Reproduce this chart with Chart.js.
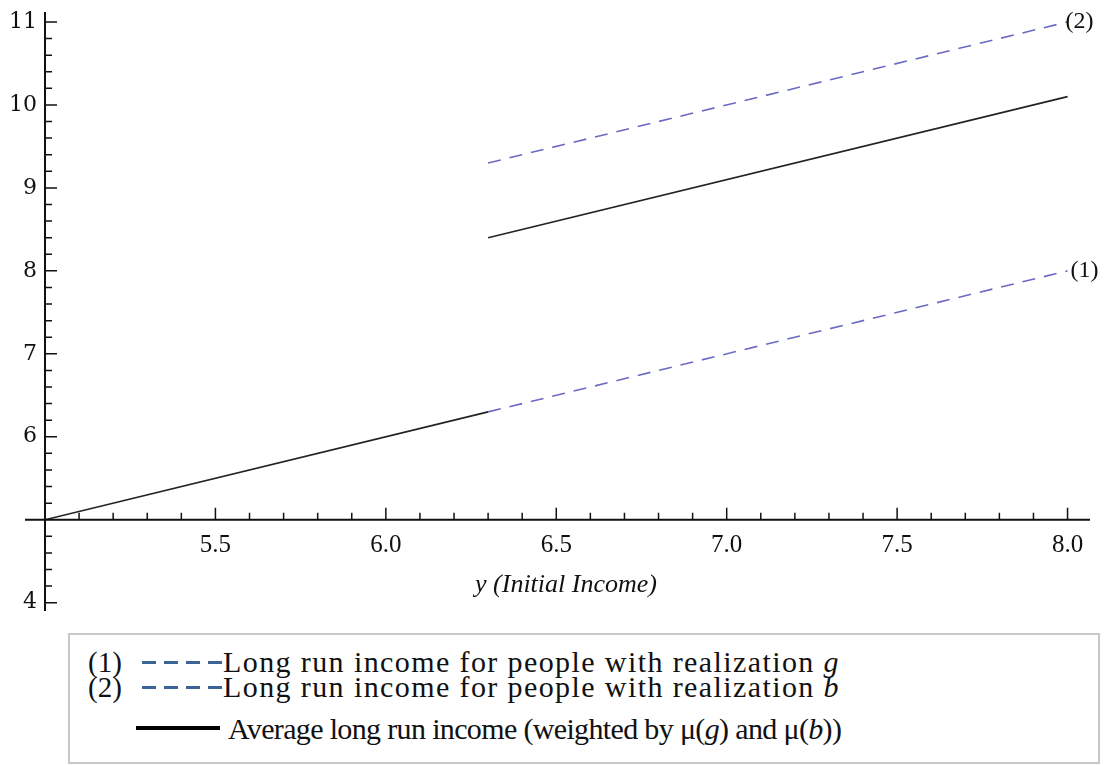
<!DOCTYPE html>
<html>
<head>
<meta charset="utf-8">
<script src="https://cdn.jsdelivr.net/npm/chart.js@4.4.0/dist/chart.umd.min.js"></script>
<style>
    body { margin: 0; background: #fff; width: 1105px; height: 765px; overflow: hidden; position: relative; }
    #wrap { position: absolute; left: 0; top: 0; width: 1105px; height: 625px; }
    #legendBox {
        position: absolute; left: 68px; top: 633px; width: 1032px; height: 131px;
        border: 2px solid #c8c8c8; box-sizing: border-box;
        font-family: "Liberation Serif", serif; font-size: 30px; color: #111;
    }
    .row { position: absolute; left: 0; height: 26px; line-height: 26px; white-space: nowrap; }
    .num { position: absolute; left: 18px; font-size: 29px; }
    .dash { position: absolute; left: 72px; top: 12px; width: 84px; height: 3px;
            background: repeating-linear-gradient(90deg, #3d6499 0 14px, transparent 14px 22px); }
    .solid { position: absolute; left: 66px; top: 10px; width: 84px; height: 4px; background: #000; }
    .txt { position: absolute; left: 153px; letter-spacing: 1.4px; }
</style>
</head>
<body>
<div id="wrap"><canvas id="chart" width="1105" height="625"></canvas></div>
<div id="legendBox">
    <div class="row" style="top:14px"><span class="num">(1)</span><span class="dash"></span><span class="txt">Long run income for people with realization <i>g</i></span></div>
    <div class="row" style="top:39px"><span class="num">(2)</span><span class="dash"></span><span class="txt">Long run income for people with realization <i>b</i></span></div>
    <div class="row" style="top:81px"><span class="solid"></span><span class="txt" style="left:158px; letter-spacing:-0.65px">Average long run income (weighted by μ(<i>g</i>) and μ(<i>b</i>))</span></div>
</div>
<script>
// data
const avgLowX = [5.0, 6.3];
const avgLowY = [5.0, 6.3];
const goodX = [6.3, 8.0];
const goodY = [6.3, 8.0];
const badX = [6.3, 8.0];
const badY = [9.3, 11.0];
const avgHighX = [6.3, 8.0];
const avgHighY = [8.4, 10.1];
const endLabels = ['(1)', '(2)'];
const xLabelTicks = [5.5, 6.0, 6.5, 7.0, 7.5, 8.0];
const yLabelTicks = [4, 6, 7, 8, 9, 10, 11];

function pts(xs, ys) {
    return xs.map((x, i) => ({ x: x, y: ys[i] }));
}

const dashColor = '#6a6ac4';
const solidColor = '#222';

// axes cross at (5, 5): lines, inward ticks and labels drawn from the scales
const axesPlugin = {
    id: 'axesPlugin',
    afterDraw(chart) {
        const ctx = chart.ctx;
        const xs = chart.scales.x, ys = chart.scales.y;
        const area = chart.chartArea;
        const x0 = xs.getPixelForValue(5), y0 = ys.getPixelForValue(5);
        ctx.save();
        ctx.strokeStyle = '#111';
        ctx.lineWidth = 2;
        ctx.beginPath();
        ctx.moveTo(25, y0); ctx.lineTo(area.right + 2, y0);
        ctx.moveTo(x0, area.top); ctx.lineTo(x0, area.bottom);
        ctx.stroke();
        ctx.lineWidth = 1.5;
        ctx.beginPath();
        for (let i = 51; i <= 80; i++) {
            const px = xs.getPixelForValue(i / 10);
            const len = i % 5 === 0 ? 12 : 7;
            ctx.moveTo(px, y0); ctx.lineTo(px, y0 - len);
        }
        for (let i = 20; i <= 55; i++) {
            const v = i / 5;
            if (v === 5) continue;
            const py = ys.getPixelForValue(v);
            const len = i % 5 === 0 ? 12 : 7;
            ctx.moveTo(x0, py); ctx.lineTo(x0 + len, py);
        }
        ctx.stroke();

        ctx.fillStyle = '#111';
        // x tick labels
        ctx.font = '25px "Liberation Serif", serif';
        ctx.textAlign = 'center';
        ctx.textBaseline = 'middle';
        xLabelTicks.forEach(v => ctx.fillText(v.toFixed(1), xs.getPixelForValue(v), y0 + 26));
        // y tick labels
        ctx.font = '22px "DejaVu Serif", serif';
        ctx.textAlign = 'right';
        yLabelTicks.forEach(v => ctx.fillText(String(v), x0 - 8, ys.getPixelForValue(v)));

        // end labels
        ctx.font = '24px "Liberation Serif", serif';
        ctx.textAlign = 'left';
        ctx.fillText(endLabels[0], xs.getPixelForValue(goodX[1]) + 3, ys.getPixelForValue(goodY[1]));
        ctx.fillText(endLabels[1], xs.getPixelForValue(badX[1]) - 2, ys.getPixelForValue(badY[1]));

        // axis title
        ctx.font = 'italic 26px "Liberation Serif", serif';
        ctx.textAlign = 'center';
        ctx.fillText('y (Initial Income)', 566, y0 + 65);
        ctx.restore();
    }
};

const ctx = document.getElementById('chart');
new Chart(ctx.getContext('2d'), {
    type: 'scatter',
    data: {
        datasets: [
            { label: 'avgLow', data: pts(avgLowX, avgLowY), borderColor: solidColor, borderWidth: 1.6 },
            { label: '(1)', data: pts(goodX, goodY), borderColor: dashColor, borderWidth: 1.6, borderDash: [13, 9] },
            { label: '(2)', data: pts(badX, badY), borderColor: dashColor, borderWidth: 1.6, borderDash: [13, 9] },
            { label: 'avgHigh', data: pts(avgHighX, avgHighY), borderColor: solidColor, borderWidth: 1.6 }
        ].map(d => Object.assign(d, { showLine: true, pointRadius: 0, fill: false }))
    },
    options: {
        responsive: false,
        animation: false,
        layout: { padding: { left: 45, right: 17, top: 12, bottom: 14 } },
        plugins: { legend: { display: false }, tooltip: { enabled: false } },
        scales: {
            x: { type: 'linear', min: 5, max: 8.06, display: false },
            y: { type: 'linear', min: 3.9, max: 11.12, display: false }
        }
    },
    plugins: [axesPlugin]
});
</script>
</body>
</html>
